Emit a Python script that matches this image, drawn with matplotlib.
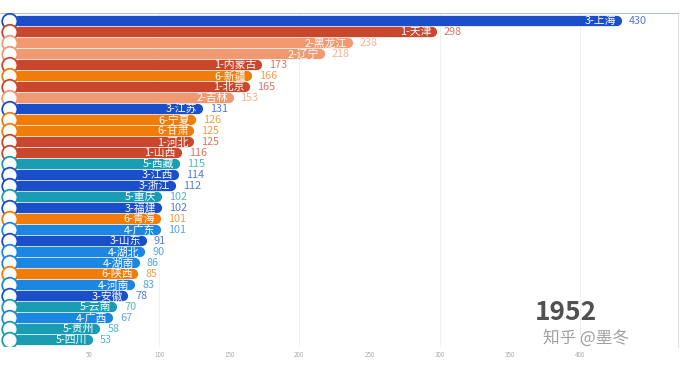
import matplotlib
matplotlib.use("Agg")
import matplotlib.pyplot as plt

plt.rcParams['font.family'] = ['Noto Sans CJK SC', 'DejaVu Sans']

provinces = ["上海", "天津", "黑龙江", "辽宁", "内蒙古", "新疆", "北京", "吉林", "江苏", "宁夏",
             "甘肃", "河北", "山西", "西藏", "江西", "浙江", "重庆", "福建", "青海", "广东",
             "山东", "湖北", "湖南", "陕西", "河南", "安徽", "云南", "广西", "贵州", "四川"]
groups = [3, 1, 2, 2, 1, 6, 1, 2, 3, 6,
          6, 1, 1, 5, 3, 3, 5, 3, 6, 4,
          3, 4, 4, 6, 4, 3, 5, 4, 5, 5]
values = [430, 298, 238, 218, 173, 166, 165, 153, 131, 126,
          125, 125, 116, 115, 114, 112, 102, 102, 101, 101,
          91, 90, 86, 85, 83, 78, 70, 67, 58, 53]
year = "1952"
ticks = [50, 100, 150, 200, 250, 300, 350, 400]

group_colors = {1: "#c9472d", 2: "#f19a72", 3: "#1b4ec9",
                4: "#1c87e3", 5: "#1a9db3", 6: "#f07d0a"}

fig = plt.figure(figsize=(6.84, 3.75), dpi=100)
ax = fig.add_axes([0.0, 0.075, 678 / 684, 0.89])

n = len(values)
ys = list(range(n))
for y, v, g, p in zip(ys, values, groups, provinces):
    c = group_colors[g]
    ax.plot([0, v - 3.5], [y, y], color=c, lw=7.4, solid_capstyle="round", zorder=2)
    ax.text(v - 4, y, f"{g}-{p}", color="white", fontsize=7.8, ha="right",
            va="center", zorder=3)
    ax.text(v + 5, y, str(v), color=c, alpha=0.75, fontsize=7.8, ha="left",
            va="center", zorder=3)

ax.scatter([-6.5] * n, ys, s=120, facecolor="white",
           edgecolor=[group_colors[g] for g in groups], linewidth=1.3, zorder=4)

ax.set_xlim(-13.5, 470)
ax.set_ylim(n - 0.4, -0.75)
ax.set_yticks([])
ax.set_xticks(ticks)
ax.set_xticklabels([str(t) for t in ticks], fontsize=4.5, color="#aaaaaa")
ax.tick_params(axis="x", length=0, pad=3)
for t in [100, 200, 300, 400]:
    ax.axvline(t, color="#f0f0f0", lw=0.8, zorder=0)

for s in ["left", "bottom"]:
    ax.spines[s].set_visible(False)
ax.spines["top"].set_color("#b8c4b8")
ax.spines["right"].set_color("#e4e4e4")

ax.text(0.835, 0.062, year, transform=ax.transAxes, fontsize=19, fontweight="bold",
        color="#333333", ha="center", va="bottom", alpha=0.85, zorder=5)
ax.text(0.865, 0.0, "知乎 @墨冬", transform=ax.transAxes, fontsize=12,
        color="#888888", ha="center", va="bottom", alpha=0.8, zorder=6)

fig.savefig("out.png", dpi=100)
